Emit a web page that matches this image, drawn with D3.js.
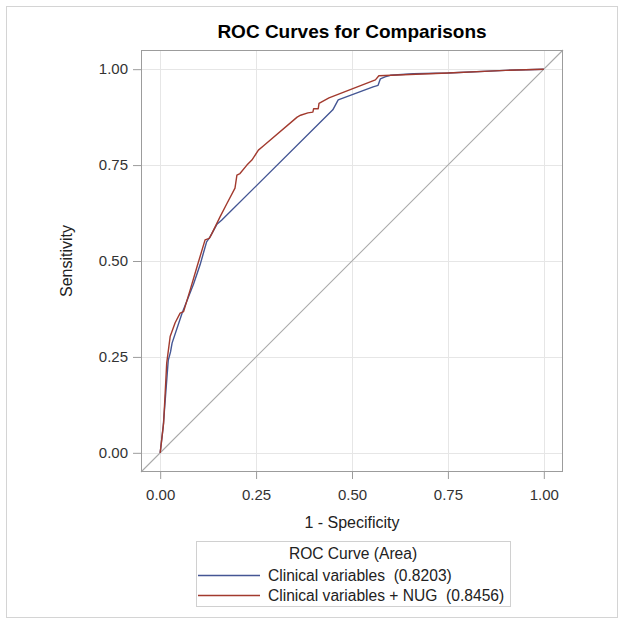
<!DOCTYPE html>
<html><head><meta charset="utf-8">
<script src="https://cdn.jsdelivr.net/npm/d3@7"></script>
<style>body{margin:0;background:#fff}svg text{font-family:"Liberation Sans",Arial,sans-serif}</style>
</head><body>
<svg id="c" width="624" height="624"></svg>
<script>
const title = "ROC Curves for Comparisons";
const xLabel = "1 - Specificity";
const yLabel = "Sensitivity";
const tickValues = [0, 0.25, 0.5, 0.75, 1];
const tickLabels = ["0.00", "0.25", "0.50", "0.75", "1.00"];
const seriesNames = ["Clinical variables  (0.8203)", "Clinical variables + NUG  (0.8456)"];
const seriesColors = ["#445694", "#A23A2E"];
const legendTitle = "ROC Curve (Area)";
// 1 - Specificity values, Sensitivity values
const clinX = [0, 0.008, 0.021, 0.027, 0.031, 0.057, 0.087, 0.104, 0.121, 0.130, 0.148, 0.160, 0.450, 0.464, 0.555, 0.568, 0.574, 0.586, 0.60, 0.66, 0.75, 0.90, 1];
const clinY = [0, 0.070, 0.241, 0.263, 0.286, 0.364, 0.440, 0.490, 0.550, 0.563, 0.596, 0.606, 0.894, 0.920, 0.954, 0.958, 0.975, 0.980, 0.984, 0.988, 0.990, 0.997, 1];
const nugX = [0, 0.009, 0.017, 0.026, 0.039, 0.052, 0.061, 0.078, 0.096, 0.117, 0.128, 0.135, 0.156, 0.174, 0.195, 0.200, 0.208, 0.226, 0.239, 0.256, 0.268, 0.357, 0.366, 0.385, 0.398, 0.400, 0.412, 0.414, 0.440, 0.561, 0.570, 0.65, 0.75, 0.90, 1];
const nugY = [0, 0.078, 0.234, 0.303, 0.339, 0.364, 0.368, 0.424, 0.485, 0.555, 0.559, 0.572, 0.615, 0.650, 0.690, 0.724, 0.728, 0.750, 0.763, 0.789, 0.799, 0.875, 0.880, 0.886, 0.888, 0.897, 0.897, 0.911, 0.925, 0.972, 0.983, 0.986, 0.990, 0.997, 1];

const svg = d3.select("#c");
svg.append("rect").attr("x",6.5).attr("y",6.5).attr("width",611).attr("height",611)
  .attr("fill","#fff").attr("stroke","#d4d4d4");

const L=141, R=563, T=50, B=472;
const x = d3.scaleLinear().domain([-0.05,1.05]).range([L,R]);
const y = d3.scaleLinear().domain([-0.05,1.05]).range([B,T]);

// grid
const g = svg.append("g");
g.selectAll(".gx").data(tickValues).join("line")
  .attr("x1",d=>Math.round(x(d))+0.5).attr("x2",d=>Math.round(x(d))+0.5)
  .attr("y1",T).attr("y2",B).attr("stroke","#e6e6e6");
g.selectAll(".gy").data(tickValues).join("line")
  .attr("y1",d=>Math.round(y(d))+0.5).attr("y2",d=>Math.round(y(d))+0.5)
  .attr("x1",L).attr("x2",R).attr("stroke","#e6e6e6");

// diagonal
svg.append("line").attr("x1",x(-0.05)).attr("y1",y(-0.05)).attr("x2",x(1.05)).attr("y2",y(1.05))
  .attr("stroke","#a9a9a9").attr("stroke-width",1.1);

// curves
const line = d3.line().x(d=>x(d[0])).y(d=>y(d[1]));
const series = [d3.zip(clinX, clinY), d3.zip(nugX, nugY)];
series.forEach((s,i)=>{
  svg.append("path").attr("d",line(s)).attr("fill","none")
    .attr("stroke",seriesColors[i]).attr("stroke-width",1.4).attr("stroke-linejoin","round");
});

// frame
svg.append("rect").attr("x",L+0.5).attr("y",T+0.5).attr("width",R-L-1).attr("height",B-T-1)
  .attr("fill","none").attr("stroke","#9c9c9c");

// axes
const xAxis = d3.axisBottom(x).tickValues(tickValues).tickFormat((d,i)=>tickLabels[i]).tickSizeOuter(0).tickSizeInner(7).tickPadding(10);
const yAxis = d3.axisLeft(y).tickValues(tickValues).tickFormat((d,i)=>tickLabels[i]).tickSizeOuter(0).tickSizeInner(8).tickPadding(5);
const gx = svg.append("g").attr("transform",`translate(0,${B})`).call(xAxis);
const gy = svg.append("g").attr("transform",`translate(${L},0)`).call(yAxis);
[gx,gy].forEach(a=>{
  a.select(".domain").remove();
  a.selectAll(".tick line").attr("stroke","#9c9c9c");
  a.selectAll(".tick text").attr("font-size",15).attr("fill","#333").attr("font-family",null);
});

// titles
svg.append("text").attr("x",(L+R)/2).attr("y",38).attr("text-anchor","middle")
  .attr("font-size",19).attr("font-weight","bold").attr("fill","#000").text(title);
svg.append("text").attr("x",(L+R)/2).attr("y",528).attr("text-anchor","middle")
  .attr("font-size",16).attr("fill","#222").text(xLabel);
svg.append("text").attr("transform",`translate(72,${(T+B)/2}) rotate(-90)`).attr("text-anchor","middle")
  .attr("font-size",16).attr("fill","#222").text(yLabel);

// legend
const lg = svg.append("g");
lg.append("rect").attr("x",196.5).attr("y",541.5).attr("width",314).attr("height",65)
  .attr("fill","#fff").attr("stroke","#d0d0d0");
lg.append("text").attr("x",353).attr("y",559).attr("text-anchor","middle")
  .attr("font-size",15.6).attr("fill","#222").text(legendTitle);
seriesNames.forEach((n,i)=>{
  const cy = 575 + i*20;
  lg.append("line").attr("x1",198).attr("x2",260).attr("y1",cy+0.5).attr("y2",cy+0.5)
    .attr("stroke",seriesColors[i]).attr("stroke-width",1.5);
  lg.append("text").attr("x",268).attr("y",cy+5.5).attr("font-size",15.6).attr("fill","#222")
    .attr("xml:space","preserve").style("white-space","pre").text(n);
});
</script>
</body></html>
